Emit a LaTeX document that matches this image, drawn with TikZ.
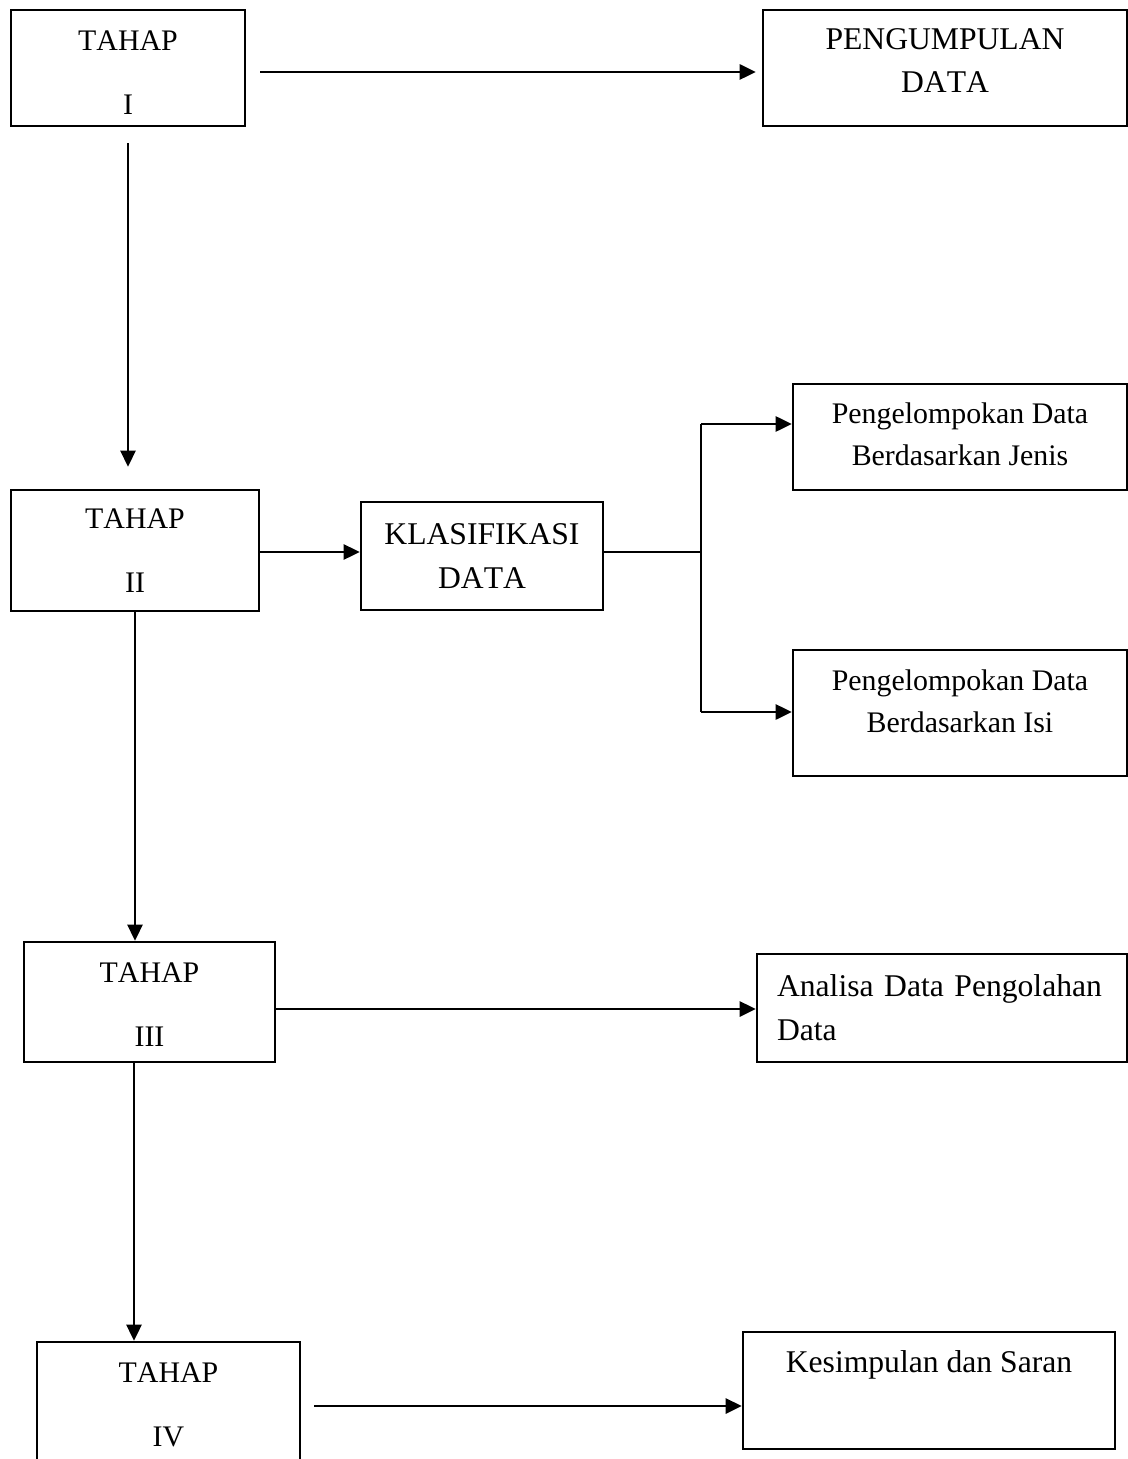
\documentclass[tikz,border=0pt]{standalone}
\usepackage{fontspec}
\setmainfont{Liberation Serif}[Kerning=Off]
\usetikzlibrary{arrows.meta}

\begin{document}
\begin{tikzpicture}[x=0.02cm,y=-0.02cm,line width=1.5pt,>={Triangle[length=0.32cm,width=0.3cm]}]
  \tikzstyle{box}=[rectangle,draw,align=center,inner sep=0pt,font=\fontsize{17}{24}\selectfont]
  \tikzstyle{bigbox}=[box,font=\fontsize{18}{25}\selectfont]
  \clip (0,0) rectangle (1128,1459);

  \node[box,minimum width=4.68cm,minimum height=2.32cm] (T_1) at (128,68) {\rule{0pt}{17pt}TAHAP\\[12.5pt]I};
  \node[box,minimum width=4.96cm,minimum height=2.42cm] (T_2) at (135,550.5) {TAHAP\\[12.5pt]II};
  \node[box,minimum width=5.02cm,minimum height=2.4cm] (T_3) at (149.5,1002) {\rule{0pt}{14.2pt}TAHAP\\[12.5pt]III};
  \node[box,minimum width=5.26cm,minimum height=2.4cm] (T_4) at (168.5,1402) {\rule{0pt}{14.7pt}TAHAP\\[12.5pt]IV};

  \node[bigbox,minimum width=7.28cm,minimum height=2.32cm,text depth=0.3cm] (H_1) at (945,68) {PENGUMPULAN\\DATA};
  \node[bigbox,minimum width=4.84cm,minimum height=2.16cm] (H_2) at (482,556) {KLASIFIKASI\\DATA};
  \node[box,minimum width=6.68cm,minimum height=2.12cm,text depth=0.12cm] (H_3) at (960,437) {Pengelompokan Data\\Berdasarkan Jenis};
  \node[box,minimum width=6.68cm,minimum height=2.52cm,text depth=0.48cm] (H_4) at (960,713) {Pengelompokan Data\\Berdasarkan Isi};
  \node[bigbox,align=left,text width=6.6cm,inner xsep=0.4cm,minimum height=2.16cm] (H_5) at (942,1008) {Analisa Data Pengolahan\\Data};
  \node[bigbox,minimum width=7.44cm,minimum height=2.34cm,text depth=1.14cm] (H_6) at (929,1390.5) {Kesimpulan dan Saran};

  \coordinate (C_1) at (701,424);
  \coordinate (C_2) at (701,712);
  \coordinate (C_3) at (275,1009);
  \coordinate (C_4) at (134,1062);
  \coordinate (C_5) at (314,1406);
  \coordinate (C_6) at (701,552);
  \coordinate (C_7) at (260,72);
  \coordinate (C_8) at (259,552);

  \draw[->,shorten >=0.12cm] (C_7) -- (C_7 -| H_1.west);
  \draw[->,shorten <=0.32cm,shorten >=0.44cm] (T_1.south) -- (T_1.south |- T_2.north);
  \draw[->] (C_8 -| T_2.east) -- (C_8 -| H_2.west);
  \draw (C_6 -| H_2.east) -- (C_6);
  \draw (C_1) -- (C_2);
  \draw[->] (C_1) -- (C_1 -| H_3.west);
  \draw[->] (C_2) -- (C_2 -| H_4.west);
  \draw[->] (T_2.south) -- (T_2.south |- T_3.north);
  \draw[->] (C_3) -- (C_3 -| H_5.west);
  \draw[->] (C_4) -- (C_4 |- T_4.north);
  \draw[->] (C_5) -- (C_5 -| H_6.west);
\end{tikzpicture}
\end{document}
